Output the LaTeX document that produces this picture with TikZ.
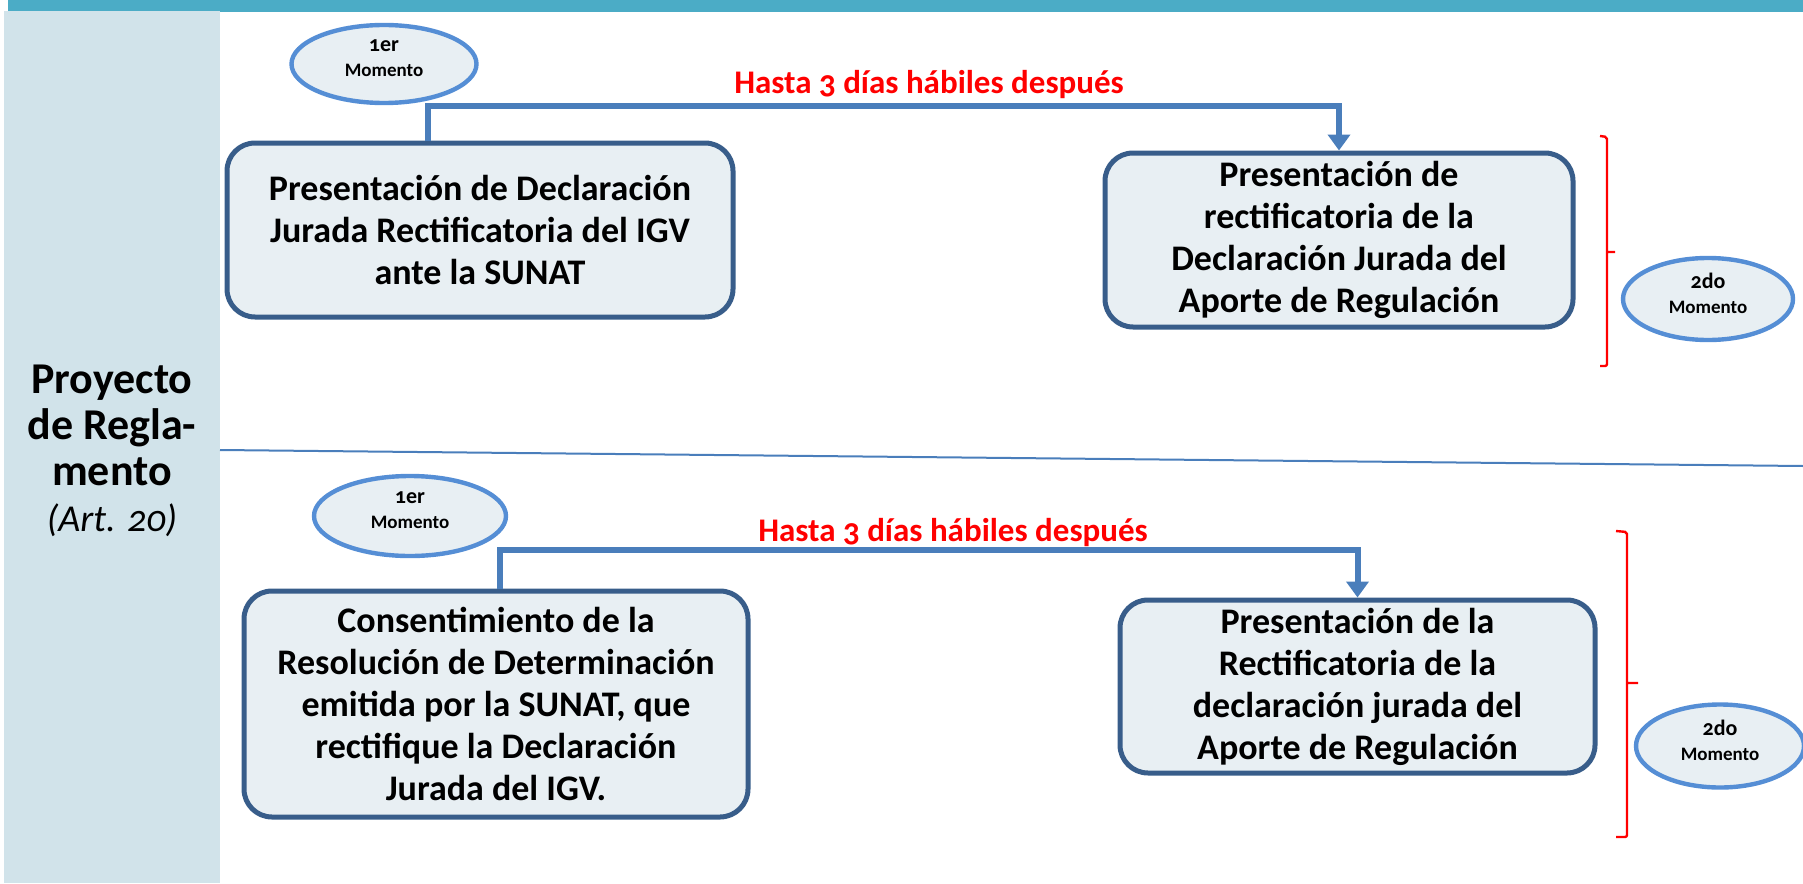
\documentclass[tikz,border=0pt]{standalone}
\usepackage{fontspec}
\setmainfont{Carlito}[Numbers=OldStyle]
\usepackage{tikz}
\usetikzlibrary{positioning}
\usetikzlibrary{arrows.meta,shapes.geometric}
\definecolor{barteal}{HTML}{4BACC6}
\definecolor{panelblue}{HTML}{D1E3EA}
\definecolor{boxfill}{HTML}{E8EFF3}
\definecolor{boxline}{HTML}{385D8A}
\definecolor{ovalblue}{HTML}{558ED5}
\definecolor{linkblue}{HTML}{4A7EBB}
\tikzset{stage/.style={rectangle,rounded corners=14pt,draw=boxline,line width=2.5pt,
                       fill=boxfill,align=center,inner sep=2pt,
                       font=\bfseries\fontsize{18}{21}\selectfont},
         momtext/.style={align=center,yshift=3pt,inner sep=0pt,
                         font=\bfseries\fontsize{9.5}{12.5}\selectfont},
         moment/.style={ellipse,draw=ovalblue,line width=2.2pt,fill=boxfill,inner sep=0pt,
                        label={[momtext]center:{{\fontsize{11}{12.5}\selectfont #1}\\Momento}}},
         link/.style={draw=linkblue,line width=3pt,-{Triangle[length=8pt,width=11pt]}},
         deadline/.style={text=red,font=\bfseries\fontsize{16.5}{20}\selectfont},
         bracket/.style={draw=red,line width=1.2pt,rounded corners=1pt},
         sidetitle/.style={align=center,font=\bfseries\fontsize{22}{23}\selectfont}}

\begin{document}
\begin{tikzpicture}[x=0.5pt,y=-0.5pt]
  \useasboundingbox (0,0) rectangle (1803,883);
  \fill[barteal] (8,0) rectangle (1803,12);
  \fill[panelblue] (4,11) rectangle (220,883);
  \node[sidetitle] (title) at (112,451)
    {Proyecto\\de Regla-\\mento\\{\mdseries\itshape\fontsize{19}{23}\selectfont (Art. 20)}};
  \draw[linkblue,line width=1pt] (220,450) -- (1803,466);

  \node[moment=1er,minimum width=92.5pt,minimum height=39pt] (m1) at (384,64) {};
  \node[stage,minimum width=253pt,minimum height=87pt] (b1) at (480,230)
    {Presentación de Declaración\\Jurada Rectificatoria del IGV\\ante la SUNAT};
  \node[stage,minimum width=234pt,minimum height=87pt] (b2) at (1339,240)
    {Presentación de\\rectificatoria de la\\Declaración Jurada del\\Aporte de Regulación};
  \coordinate (k1) at (428,106);
  \draw[link] (b1.north -| k1) -- (k1) -| (b2.north);
  \node[deadline] (d1) at (929,85) {Hasta 3 días hábiles después};
  \draw[bracket] (1600,136) -- (1607,137) -- (1607,366) -- (1600,366)
                 (1607,252) -- (1615,252);
  \node[moment=2do,minimum width=85pt,minimum height=41pt] (m2) at (1708,299) {};

  \node[moment=1er,minimum width=96pt,minimum height=40pt] (m3) at (410,516) {};
  \node[stage,minimum width=252pt,minimum height=113pt] (b3) at (496,704)
    {Consentimiento de la\\Resolución de Determinación\\emitida por la SUNAT, que\\rectifique la Declaración\\Jurada del IGV.};
  \node[stage,minimum width=237.5pt,minimum height=86.5pt] (b4) at (1357.5,686.5)
    {Presentación de la\\Rectificatoria de la\\declaración jurada del\\Aporte de Regulación};
  \coordinate (k2) at (500,550);
  \draw[link] (b3.north -| k2) -- (k2) -| (b4.north);
  \node[deadline] (d2) at (953,533) {Hasta 3 días hábiles después};
  \draw[bracket] (1616,531) -- (1627,532) -- (1627,837) -- (1616,837)
                 (1627,683) -- (1638,683);
  \node[moment=2do,minimum width=84pt,minimum height=41.5pt] (m4) at (1720,746) {};
\end{tikzpicture}
\end{document}
